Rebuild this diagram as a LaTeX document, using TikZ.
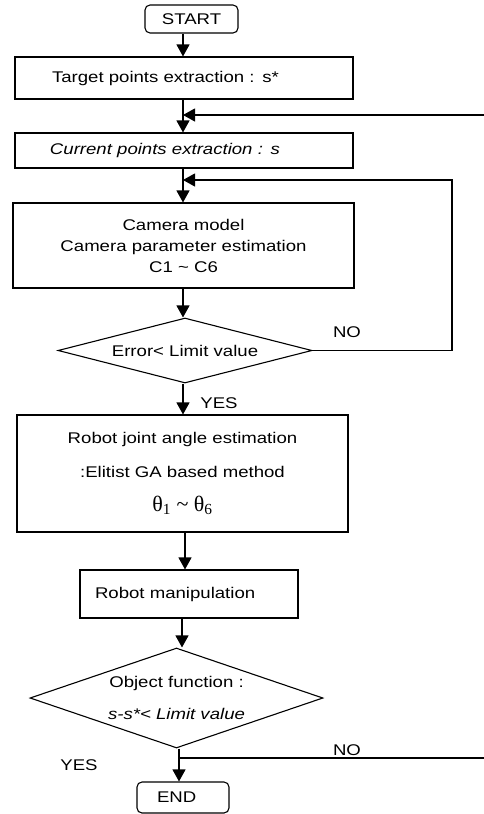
\documentclass[tikz,border=0pt]{standalone}
\usepackage{fontspec}
\setmainfont{Liberation Sans}[FakeStretch=1.2]
\newfontfamily\grk{Liberation Serif}
\usetikzlibrary{arrows.meta,shapes.geometric}
\begin{document}
\begin{tikzpicture}[x=1pt,y=-1pt,
  every node/.style={font=\fontsize{15.5}{18}\selectfont},
  box/.style={draw,line width=1.1pt,inner sep=0pt},
  term/.style={box,rounded corners=5pt},
  dia/.style={draw,line width=1.1pt,diamond,inner sep=0pt},
  arr/.style={line width=1.1pt,-{Triangle[length=12pt,width=13pt]}},
  ln/.style={line width=1.1pt},
  lbl/.style={inner sep=0pt},
]
\useasboundingbox (0,0) rectangle (484,814);
% nodes
\node[term,minimum width=93pt,minimum height=28pt] (start) at (191.5,19) {START};
\node[box,minimum width=338pt,minimum height=42pt,text width=338pt,align=left] (tgt) at (184,78) {\hspace*{37pt}Target points extraction : s*};
\node[box,minimum width=338pt,minimum height=35pt,text width=338pt,align=left] (cur) at (184,150.5) {\hspace*{35pt}\itshape Current points extraction : s};
\node[box,minimum width=341pt,minimum height=85pt,align=center,font=\fontsize{15.5}{21}\selectfont] (cam) at (183.5,245.5) {Camera model\\Camera parameter estimation\\C1 \textasciitilde{} C6};
\node[dia,minimum width=254pt,minimum height=65pt,aspect=3.9] (d1) at (185,350.5) {Error< Limit value};
\node[box,minimum width=331pt,minimum height=117pt,align=center,font=\fontsize{15.5}{34}\selectfont] (rj) at (182.5,473.5) {Robot joint angle estimation\\:Elitist GA based method\\{\grk\fontsize{22}{24}\selectfont θ\textsubscript{1} \textasciitilde{} θ\textsubscript{6}}};
\node[box,minimum width=218pt,minimum height=48pt,text width=218pt,align=left] (rm) at (189,594) {\hspace*{15pt}Robot manipulation};
\node[dia,minimum width=293pt,minimum height=100pt,aspect=2.93,align=center,font=\fontsize{15.5}{32}\selectfont] (d2) at (176.5,698) {Object function :\\\itshape s-s*< Limit value};
\node[term,minimum width=92pt,minimum height=31pt,text width=92pt,align=left] (end) at (183,797.5) {\hspace*{20pt}END};
% labels
\node[lbl] (no1) at (347,332) {NO};
\node[lbl] (yes1) at (219,403) {YES};
\node[lbl] (no2) at (347,750) {NO};
\node[lbl] (yes2) at (79,765) {YES};
% junctions
\coordinate (j1) at (183,115);
\coordinate (fb1) at (484,115);
\coordinate (j2) at (183,180);
\coordinate (c2) at (452,180);
\coordinate (j3) at (179,758);
\coordinate (fb3) at (484,758);
% connectors
\draw[arr] (start.south -| 183,0) -- (tgt.north -| 183,0);
\draw[arr] (tgt.south -| 183,0) -- (cur.north -| 183,0);
\draw[arr] (cur.south -| 183,0) -- (cam.north -| 183,0);
\draw[arr] (cam.south -| 183,0) -- (d1.north -| 183,0);
\draw[arr] (d1.south -| 183,0) -- (rj.north -| 183,0);
\draw[arr] (rj.south -| 185,0) -- (rm.north -| 185,0);
\draw[arr] (rm.south -| 182,0) -- (d2.north -| 182,0);
\draw[arr] (d2.south -| 179,0) -- (end.north -| 179,0);
\draw[arr] (fb1) -- (j1);
\draw[arr] (d1.east) -| (c2) -- (j2);
\draw[ln] (j3) -- (fb3);
\end{tikzpicture}
\end{document}
